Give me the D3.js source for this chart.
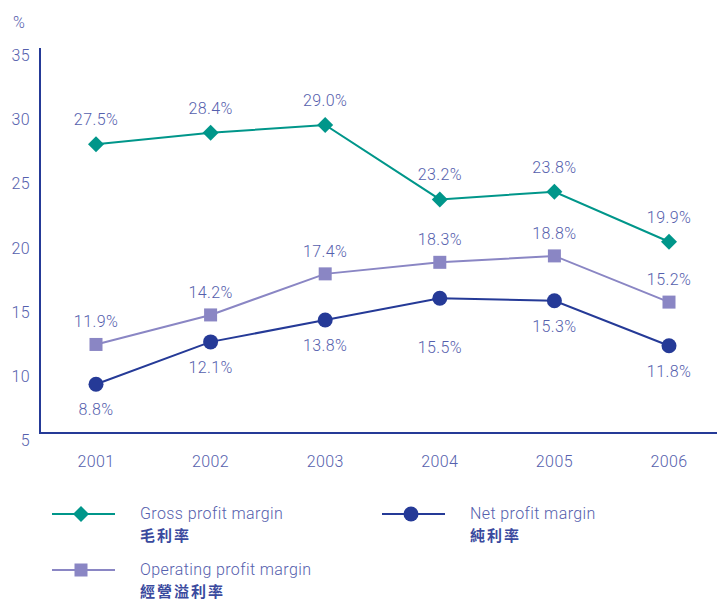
<!DOCTYPE html>
<html>
<head>
<meta charset="utf-8">
<script src="https://cdn.jsdelivr.net/npm/d3@7"></script>
<style>
  body { margin: 0; background: #fff; }
  text { font-family: Roboto, "Noto Sans", sans-serif; font-weight: 300; fill: #5560ad; letter-spacing: 0.4px; }
</style>
</head>
<body>
<div id="chart"></div>
<script>
// Data
var years = ["2001", "2002", "2003", "2004", "2005", "2006"]
var gross = [27.5, 28.4, 29.0, 23.2, 23.8, 19.9]
var operating = [11.9, 14.2, 17.4, 18.3, 18.8, 15.2]
var net = [8.8, 12.1, 13.8, 15.5, 15.3, 11.8]
var yTicks = [5, 10, 15, 20, 25, 30, 35]

var W = 717, H = 607

var svg = d3.select("#chart").append("svg")
    .attr("width", W)
    .attr("height", H)

// Scales
var x = d3.scalePoint().domain(years).range([96, 669])
var y = d3.scaleLinear().domain([5, 35]).range([433, 48])

var navy = "#253a97", teal = "#00968a", lav = "#8a86c4"

// Axes
svg.append("line").attr("x1", 40).attr("x2", 40).attr("y1", 48).attr("y2", 434)
    .attr("stroke", navy).attr("stroke-width", 2)
svg.append("line").attr("x1", 39).attr("x2", 717).attr("y1", 433).attr("y2", 433)
    .attr("stroke", navy).attr("stroke-width", 2)

svg.selectAll(".ytick").data(yTicks).enter().append("text")
    .attr("class", "ytick")
    .attr("x", 30).attr("y", d => y(d) + 13)
    .attr("text-anchor", "end")
    .style("font-size", "16px")
    .text(d => d)

svg.append("text").attr("x", 13).attr("y", 28).style("font-size", "16px").text("%")

svg.selectAll(".xtick").data(years).enter().append("text")
    .attr("class", "xtick")
    .attr("x", d => x(d)).attr("y", 467)
    .attr("text-anchor", "middle")
    .style("font-size", "16px")
    .text(d => d)

var line = d3.line().x((d, i) => x(years[i])).y(d => y(d))

var series = [
  {name: "operating", values: operating, color: lav, marker: "square", dy: -17},
  {name: "net", values: net, color: navy, marker: "circle", dy: 31},
  {name: "gross", values: gross, color: teal, marker: "diamond", dy: -19}
]

function drawMarker(g, type, color) {
  if (type == "diamond") {
    g.append("path").attr("d", "M0,-8L8,0L0,8L-8,0Z").attr("fill", color)
  } else if (type == "circle") {
    g.append("circle").attr("r", 7.5).attr("fill", color)
  } else {
    g.append("rect").attr("x", -6.5).attr("y", -6.5).attr("width", 13).attr("height", 13).attr("fill", color)
  }
}

series.forEach(s => {
  svg.append("path").datum(s.values)
    .attr("d", line)
    .attr("fill", "none")
    .attr("stroke", s.color)
    .attr("stroke-width", 2)

  s.values.forEach((v, i) => {
    var g = svg.append("g").attr("transform", "translate(" + x(years[i]) + "," + y(v) + ")")
    drawMarker(g, s.marker, s.color)
  })

  svg.selectAll(".lbl-" + s.name).data(s.values).enter().append("text")
    .attr("class", "lbl-" + s.name)
    .attr("x", (d, i) => x(years[i]))
    .attr("y", (d, i) => {
      // net 2004 label sits lower in the original
      var extra = (s.name == "net" && i == 3) ? 24 : 0
      return y(d) + s.dy + extra
    })
    .attr("text-anchor", "middle")
    .style("font-size", "16px")
    .text(d => d.toFixed(1) + "%")
})

// Legend
var legendItems = [
  {en: "Gross profit margin", zh: "毛利率", color: teal, marker: "diamond", lx: 52, ly: 514},
  {en: "Net profit margin", zh: "純利率", color: navy, marker: "circle", lx: 382, ly: 514},
  {en: "Operating profit margin", zh: "經營溢利率", color: lav, marker: "square", lx: 52, ly: 570}
]

legendItems.forEach(it => {
  var g = svg.append("g").attr("transform", "translate(" + it.lx + "," + it.ly + ")")
  g.append("line").attr("x1", 0).attr("x2", 63).attr("y1", 0).attr("y2", 0)
    .attr("stroke", it.color).attr("stroke-width", 2)
  var m = g.append("g").attr("transform", "translate(29,0)")
  drawMarker(m, it.marker, it.color)
  g.append("text").attr("x", 88).attr("y", 5).style("font-size", "16px").text(it.en)
  g.append("text").attr("x", 88).attr("y", 27)
    .style("font-family", "'Noto Sans CJK TC', sans-serif")
    .style("font-weight", "bold")
    .style("font-size", "15px")
    .style("letter-spacing", "2px")
    .style("fill", "#3a4a9e")
    .text(it.zh)
})
</script>
</body>
</html>
